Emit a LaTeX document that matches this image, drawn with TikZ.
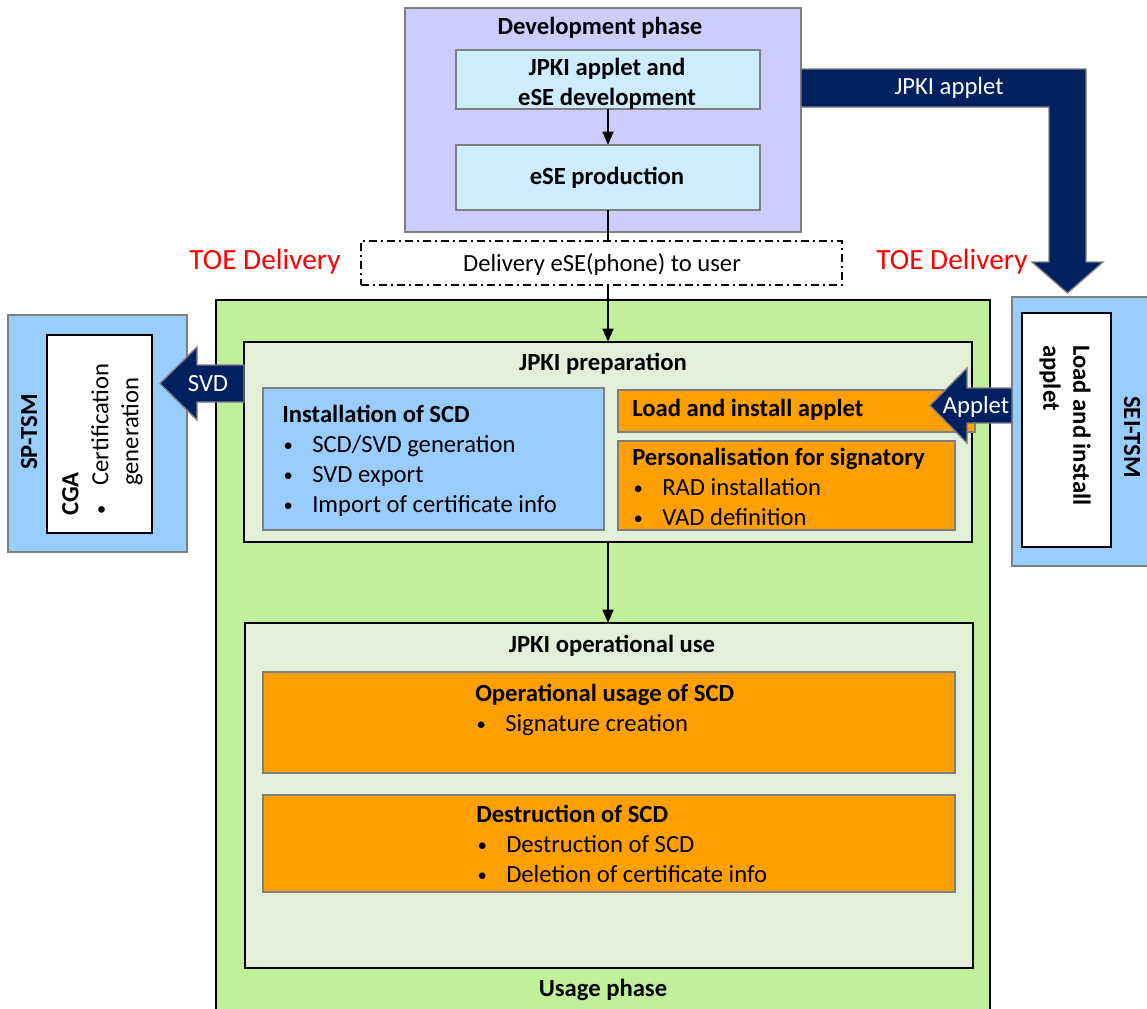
\documentclass[tikz,border=0pt]{standalone}
\usepackage{fontspec}
\setmainfont{Carlito}
\usetikzlibrary{arrows.meta,fit}

\definecolor{devlav}{HTML}{CCCCFF}
\definecolor{devblue}{HTML}{CCECFF}
\definecolor{tsmblue}{HTML}{99CCFF}
\definecolor{usegreen}{HTML}{C2F09A}
\definecolor{prepgreen}{HTML}{E2F0D9}
\definecolor{taskorange}{HTML}{FFA000}
\definecolor{navy}{HTML}{002060}
\definecolor{edgegray}{HTML}{7F7F7F}

\tikzset{
  box/.style = {draw=#1, line width=1.2pt, inner sep=0pt, outer sep=0pt},
  box/.default = edgegray,
  txt/.style = {font=\fontsize{18.5}{22.5}\selectfont, inner sep=0pt},
  ttl/.style = {font=\fontsize{18.5}{22.5}\selectfont\bfseries, inner sep=0pt},
  toe/.style = {font=\fontsize{22}{26}\selectfont, text=red, inner sep=0pt},
  flow/.style = {line width=2pt, -{Triangle[length=10pt,width=8pt]}},
  bigarrow/.style = {fill=navy, draw=edgegray, line width=1pt}
}

\newcommand{\itm}[1]{\makebox[22.5pt][l]{\hspace{1pt}\raisebox{1.2pt}{\fontsize{14}{14}\selectfont\textbullet}}#1}

\begin{document}
\begin{tikzpicture}[x=0.75pt, y=-0.75pt]
	\useasboundingbox (0,0) rectangle (1147,1008);
	
	% Development phase
	\node[box, fill=devlav, fit={(405,8) (801,232)}] (devphase) {};
	\node[ttl] (devtitle) at (600,28) {Development phase};
	\node[box, fill=devblue, fit={(456,50) (760,109)}] (appdev) {};
	\node[ttl, align=center] (appdevtext) at (607,84) {JPKI applet and\\eSE development};
	\node[box, fill=devblue, fit={(456,145) (760,210)}] (eseprod) {};
	\node[ttl] (eseprodtext) at (607,178) {eSE production};
	
	% Delivery
	\node[box=black, line width=1pt, dash pattern=on 6pt off 3pt on 1.5pt off 3pt, fit={(361,241) (842,285)}] (deliv) {};
	\node[txt] (delivtext) at (602,264) {Delivery eSE(phone) to user};
	\node[toe] (toeleft) at (265,262) {TOE Delivery};
	\node[toe] (toeright) at (952,262) {TOE Delivery};
	
	% Usage phase
	\node[box=black, fill=usegreen, fit={(216,300) (990,1014)}] (usage) {};
	\node[ttl] (usagetitle) at (603,990) {Usage phase};
	
	% JPKI preparation
	\node[box=black, fill=prepgreen, fit={(244,342) (972,542)}] (prep) {};
	\node[ttl] (preptitle) at (603,364) {JPKI preparation};
	\node[box, fill=tsmblue, fit={(263,388) (604,530)}] (instscd) {};
	\node[txt, align=left, anchor=north west] (instscdtext) at (282,405)
		{\textbf{Installation of SCD}\\\itm{SCD/SVD generation}\\\itm{SVD export}\\\itm{Import of certificate info}};
	\node[box, fill=taskorange, fit={(618,390) (975,432)}] (loadapp) {};
	\node[ttl, anchor=west] (loadapptext) at (632,410) {Load and install applet};
	\node[box, fill=taskorange, fit={(618,441) (955,530)}] (perso) {};
	\node[txt, align=left, anchor=north west] (persotext) at (632,448)
		{\textbf{Personalisation for signatory}\\\itm{RAD installation}\\\itm{VAD definition}};
	
	% JPKI operational use
	\node[box=black, fill=prepgreen, fit={(245,623) (973,968)}] (oper) {};
	\node[ttl] (opertitle) at (612,646) {JPKI operational use};
	\node[box, fill=taskorange, fit={(263,672) (955,773)}] (opscd) {};
	\node[txt, align=left, anchor=north west] (opscdtext) at (475,684)
		{\textbf{Operational usage of SCD}\\\itm{Signature creation}};
	\node[box, fill=taskorange, fit={(263,795) (955,892)}] (destscd) {};
	\node[txt, align=left, anchor=north west] (destscdtext) at (476,805)
		{\textbf{Destruction of SCD}\\\itm{Destruction of SCD}\\\itm{Deletion of certificate info}};
	
	% SP-TSM
	\node[box, fill=tsmblue, fit={(8,315) (187,552)}] (sptsm) {};
	\node[ttl, rotate=90] (sptsmtitle) at (29,432) {SP-TSM};
	\node[box=black, fill=white, fit={(47,335) (152,533)}] (cga) {};
	\node[txt, align=left, rotate=90, anchor=north west] (cgatext) at (62,516)
		{\textbf{CGA}\\\itm{Certification}\\\hspace*{22.5pt}generation};
	
	% SEI-TSM
	\node[box, fill=tsmblue, fit={(1012,297) (1155,566)}] (seitsm) {};
	\node[ttl, rotate=-90] (seitsmtitle) at (1132,437) {SEI-TSM};
	\node[box=black, fill=white, fit={(1022,313) (1111,547)}] (seiload) {};
	\node[ttl, align=left, rotate=-90, anchor=north west] (seiloadtext) at (1091,345)
		{Load and install\\applet};
	
	% Flow
	\draw[flow] (appdev) -- (eseprod);
	\draw[line width=2pt] (eseprod.south) -- (eseprod.south |- deliv.north);
	\draw[flow] (eseprod.south |- deliv.south) -- (eseprod.south |- prep.north);
	\draw[flow] (prep.south) -- (prep.south |- oper.north);
	
	% Block arrows
	\draw[bigarrow] (801,69) -- (1086,69) -- (1086,262) -- (1103,262) -- (1067.5,293)
		-- (1032,262) -- (1049,262) -- (1049,107) -- (801,107) -- cycle;
	\node[txt, text=white] (appletlab) at (949,88) {JPKI applet};
	\draw[bigarrow] (244,365) -- (197,365) -- (197,347) -- (160,383.5) -- (197,420)
		-- (197,402) -- (244,402) -- cycle;
	\node[txt, text=white] (svdlab) at (208,384) {SVD};
	\draw[bigarrow] (1012,388) -- (967,388) -- (967,368) -- (930,405.5) -- (967,443)
		-- (967,423) -- (1012,423) -- cycle;
	\node[txt, text=white] (applab) at (976,407) {Applet};
	
\end{tikzpicture}
\end{document}
